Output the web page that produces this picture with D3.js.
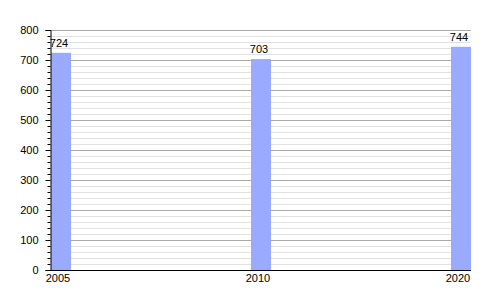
<!DOCTYPE html>
<html>
<head>
<meta charset="utf-8">
<script src="https://cdn.jsdelivr.net/npm/d3@7"></script>
<style>
  body { margin: 0; background: #fff; }
  svg text { font-family: "Liberation Sans", Arial, sans-serif; font-size: 11px; fill: #000; }
</style>
</head>
<body>
<div id="chart"></div>
<script>
// données
const years = ['2005', '2010', '2020'];
const population = [724, 703, 744];
const yMajorTicks = [0, 100, 200, 300, 400, 500, 600, 700, 800];

const width = 500, height = 300;
const plotLeft = 50, plotRight = 470, plotTop = 30, plotBottom = 270;

const svg = d3.select('#chart').append('svg')
    .attr('width', width)
    .attr('height', height);

const x = d3.scaleBand()
    .domain(years)
    .range([plotLeft, plotRight])
    .paddingInner(0.9)
    .paddingOuter(0);

const y = d3.scaleLinear()
    .domain([0, 800])
    .range([plotBottom, plotTop]);

// grille mineure (tous les 20)
const minor = d3.range(0, 801, 20).filter(v => v % 100 !== 0);
svg.append('g')
    .selectAll('line')
    .data(minor)
    .join('line')
    .attr('x1', plotLeft).attr('x2', plotRight + 1)
    .attr('y1', d => Math.round(y(d)) + 0.5)
    .attr('y2', d => Math.round(y(d)) + 0.5)
    .attr('stroke', '#e2e2e2');

// grille majeure
svg.append('g')
    .selectAll('line')
    .data(yMajorTicks.filter(v => v > 0))
    .join('line')
    .attr('x1', plotLeft).attr('x2', plotRight + 1)
    .attr('y1', d => Math.round(y(d)) + 0.5)
    .attr('y2', d => Math.round(y(d)) + 0.5)
    .attr('stroke', '#aaaaaa');

// barres
svg.append('g')
    .selectAll('rect')
    .data(years)
    .join('rect')
    .attr('x', d => x(d) + 1)
    .attr('width', x.bandwidth())
    .attr('y', (d, i) => y(population[i]))
    .attr('height', (d, i) => plotBottom - y(population[i]))
    .attr('fill', '#99aaff');

// valeurs
svg.append('g')
    .selectAll('text')
    .data(years)
    .join('text')
    .attr('x', d => x(d) + x.bandwidth() / 2 - 1)
    .attr('y', (d, i) => y(population[i]) - 6)
    .attr('text-anchor', 'middle')
    .text((d, i) => population[i]);

// axe Y
const yAxis = svg.append('g')
    .attr('transform', `translate(${plotLeft + 0.5},0)`);
yAxis.call(d3.axisLeft(y).tickValues(yMajorTicks).tickSize(5).tickPadding(7))
    .call(g => g.select('.domain').attr('stroke', '#000'))
    .call(g => g.selectAll('.tick text').style('font-size', '11px').style('font-family', 'Liberation Sans, Arial, sans-serif'));
yAxis.append('g')
    .selectAll('line')
    .data(minor)
    .join('line')
    .attr('x1', -3).attr('x2', 0)
    .attr('y1', d => Math.round(y(d)) + 0.5)
    .attr('y2', d => Math.round(y(d)) + 0.5)
    .attr('stroke', '#000');

// axe X
svg.append('line')
    .attr('x1', plotLeft).attr('x2', plotRight + 1)
    .attr('y1', plotBottom + 0.5).attr('y2', plotBottom + 0.5)
    .attr('stroke', '#000');

svg.append('g')
    .selectAll('text')
    .data(years)
    .join('text')
    .attr('x', d => x(d) + x.bandwidth() / 2 - 2)
    .attr('y', plotBottom + 12)
    .attr('text-anchor', 'middle')
    .text(d => d);
</script>
</body>
</html>
